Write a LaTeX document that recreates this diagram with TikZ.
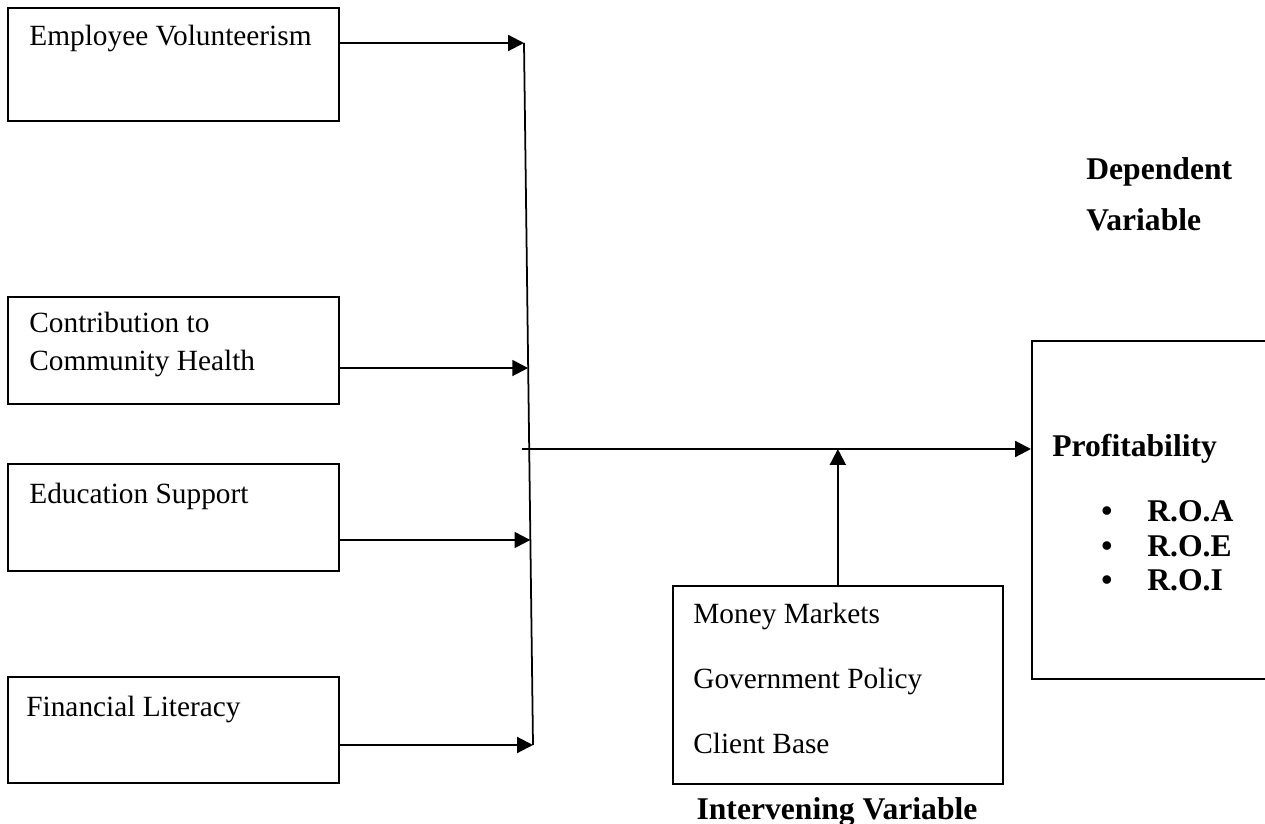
\documentclass[tikz,border=0pt]{standalone}
\usepackage{fontspec}
\setmainfont{Liberation Serif}
\usetikzlibrary{arrows.meta,positioning,calc}

\begin{document}
\begin{tikzpicture}[
    x=0.02cm, y=-0.02cm,
    box/.style={rectangle, draw, line width=1pt, inner sep=0pt, anchor=north west},
    txt/.style={anchor=base west, inner sep=0pt, font=\fontsize{16.7}{20}\selectfont},
    head/.style={anchor=base west, inner sep=0pt, font=\fontsize{18}{22}\selectfont\bfseries},
    line/.style={line width=1.2pt},
    arrow/.style={line, -{Triangle[length=9pt,width=9pt]}}
]
\useasboundingbox (0,0) rectangle (1265,824);
\clip (0,0) rectangle (1265,824);

% Independent variables
\node[box, minimum width=6.62cm, minimum height=2.26cm] (vol) at (7,7) {};
\node[txt] (voltext) at (29,46) {Employee Volunteerism};

\node[box, minimum width=6.62cm, minimum height=2.14cm] (health) at (7,296) {};
\node[txt] (healthtext) at (29,333) {Contribution to};
\node[txt] (healthtext2) at (29,371) {Community Health};

\node[box, minimum width=6.62cm, minimum height=2.14cm] (edu) at (7,463) {};
\node[txt] (edutext) at (29,503) {Education Support};

\node[box, minimum width=6.62cm, minimum height=2.12cm] (lit) at (7,676) {};
\node[txt] (littext) at (26,716) {Financial Literacy};

% Intervening variable
\node[box, minimum width=6.6cm, minimum height=3.96cm] (interv) at (672,585) {};
\node[txt] (money) at (693,623) {Money Markets};
\node[txt] (gov) at (693,688) {Government Policy};
\node[txt] (client) at (693,753) {Client Base};
\node[head, anchor=base] (intervlabel) at (837,819) {Intervening Variable};

% Dependent variable
\node[head] (dep) at (1086,180) {Dependent};
\node[head] (depvar) at (1086,231) {Variable};

\node[box, minimum width=5cm, minimum height=6.76cm] (profit) at (1031,340) {};
\node[head] (proftext) at (1052,456) {Profitability};
\node[head] (roa) at (1101,521) {\makebox[0.92cm][l]{•}R.O.A};
\node[head] (roe) at (1101,556) {\makebox[0.92cm][l]{•}R.O.E};
\node[head] (roi) at (1101,590) {\makebox[0.92cm][l]{•}R.O.I};

% Joining line
\coordinate (jtop) at (524,43);
\coordinate (jbot) at (533,745);
\draw[line width=1pt] (jtop) -- (jbot);

\coordinate (j2) at ($(jtop)!0.463!(jbot)$);
\coordinate (j3) at ($(jtop)!0.708!(jbot)$);

\draw[arrow] (vol.east |- jtop) -- (jtop);
\draw[arrow] (health.east |- j2) -- (j2);
\draw[arrow] (edu.east |- j3) -- (j3);
\draw[arrow] (lit.east |- jbot) -- (jbot);

% Main flow to profitability
\coordinate (hstart) at (522,449);
\draw[arrow] (hstart) -- (hstart -| profit.west);
\draw[arrow] (interv.north) -- (interv.north |- hstart);

\end{tikzpicture}
\end{document}
